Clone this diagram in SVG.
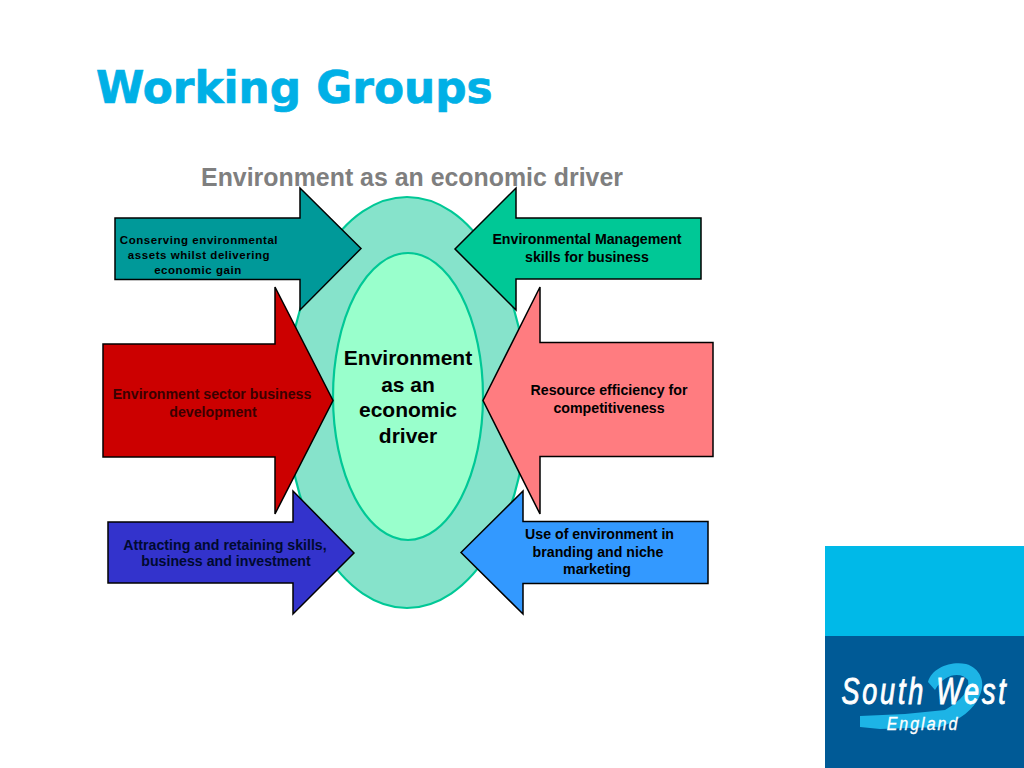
<svg xmlns="http://www.w3.org/2000/svg" width="1024" height="768" viewBox="0 0 1024 768">
<style>
text{font-family:"Liberation Sans",Arial,sans-serif;font-weight:700;text-anchor:middle;fill:#000}
.arrow{stroke:#000;stroke-width:1.5;stroke-linejoin:miter}
.lab{font-size:14.2px}
.sm{font-size:11.5px;letter-spacing:.55px}
.dark{fill:#000a30}
.centre{font-size:21px}
.logo{font-weight:400;font-style:italic;fill:#fff;stroke:#fff}
</style>
<rect width="1024" height="768" fill="#fff"/>
<text id="title" x="96" y="103" style="font-family:'DejaVu Sans',sans-serif;text-anchor:start;font-size:43.8px;fill:#00b0e6;stroke:#00b0e6;stroke-width:.7">Working Groups</text>
<text id="subtitle" x="412" y="186" style="font-size:24.9px;fill:#7f7f7f">Environment as an economic driver</text>
<g id="outer-ellipse"><ellipse cx="407" cy="402.500" rx="120" ry="205.500" fill="#86e3cb" stroke="#00c896" stroke-width="2.2"/></g>
<g id="inner-ellipse">
<ellipse cx="408" cy="396.500" rx="75" ry="143.500" fill="#99ffcc" stroke="#00c896" stroke-width="2.2"/>
<text class="centre" x="408" y="365">Environment</text>
<text class="centre" x="408" y="392">as an</text>
<text class="centre" x="408" y="417">economic</text>
<text class="centre" x="408" y="443">driver</text>
</g>
<g id="connectors">
<g id="arrow-conserving">
<path class="arrow" fill="#009999" d="M115 218H300V188L361 248.500 300 310V279.500H115Z"/>
<text class="sm" x="199" y="244">Conserving environmental</text>
<text class="sm" x="199" y="259">assets whilst delivering</text>
<text class="sm" x="198" y="274">economic gain</text>
</g>
<g id="arrow-management">
<path class="arrow" fill="#00c896" d="M701 218H516V188L455 249 516 310V279H701Z"/>
<text class="lab" x="587" y="244">Environmental Management</text>
<text class="lab" x="587" y="262">skills for business</text>
</g>
<g id="arrow-sector">
<path class="arrow" fill="#cc0000" d="M103 344H275V287L333 400.500 275 514V457H103Z"/>
<text class="lab" x="212" y="399" style="fill:#3a0000">Environment sector business</text>
<text class="lab" x="213" y="417" style="fill:#3a0000">development</text>
</g>
<g id="arrow-resource">
<path class="arrow" fill="#ff7c80" d="M713 342.500H540V287L483 400.500 540 514V456.500H713Z"/>
<text class="lab" x="609" y="395">Resource efficiency for</text>
<text class="lab" x="609" y="413">competitiveness</text>
</g>
<g id="arrow-attracting">
<path class="arrow" fill="#3333cc" d="M108 522H293V491L354 553 293 614V583H108Z"/>
<text class="lab dark" x="225" y="550">Attracting and retaining skills,</text>
<text class="lab dark" x="226" y="566">business and investment</text>
</g>
<g id="arrow-branding">
<path class="arrow" fill="#3399ff" d="M708 521.500H523V491L461 552.500 523 614V583.500H708Z"/>
<text class="lab" x="599.500" y="539">Use of environment in</text>
<text class="lab" x="598" y="557">branding and niche</text>
<text class="lab" x="597" y="574">marketing</text>
</g>
</g>
<g id="logo-panel">
<rect x="825" y="546" width="199" height="90" fill="#00b9e8"/>
<rect x="825" y="636" width="199" height="132" fill="#005a96"/>
<path d="M928 682C932 668 950 661 966 664C980 668 986 682 980 695C974 710 960 720 940 727L880 729 860 727V716L905 714 945 710C962 700 970 690 968 680C962 672 945 672 935 690Z" fill="#1db4e6"/>
<text class="logo" transform="translate(925 704) scale(1 1.35)" style="font-size:27px;letter-spacing:2.8px;stroke-width:.7">South West</text>
<text class="logo" transform="translate(923 730) scale(1 1.15)" style="font-size:16px;letter-spacing:2px;stroke-width:.3">England</text>
</g>
</svg>
